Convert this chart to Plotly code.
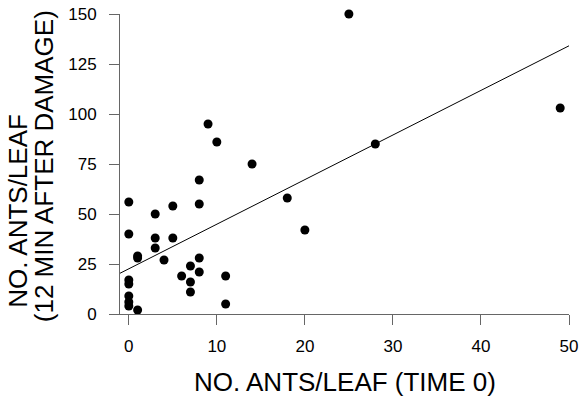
import plotly.graph_objects as go

# Data
ants_time0 = [0, 0, 1, 1, 0, 0, 0, 0, 0, 1, 3, 3, 3, 5, 5, 4, 6, 7, 7, 7,
              8, 8, 8, 8, 9, 10, 11, 11, 14, 18, 20, 25, 28, 49]
ants_12min = [56, 40, 29, 28, 17, 15, 9, 6, 4, 2, 50, 38, 33, 54, 38, 27, 19, 24, 16, 11,
              67, 55, 28, 21, 95, 86, 19, 5, 75, 58, 42, 150, 85, 103]

# Regression line parameters
fit_intercept = 22.6
fit_slope = 2.23
fit_x = [-1, 50]
fit_y = [fit_intercept + fit_slope * x for x in fit_x]

x_ticks = [0, 10, 20, 30, 40, 50]
y_ticks = [0, 25, 50, 75, 100, 125, 150]

x_title = "NO. ANTS/LEAF (TIME 0)"
y_title_1 = "NO. ANTS/LEAF"
y_title_2 = "(12 MIN AFTER DAMAGE)"

font_family = "Liberation Sans, Arial, Helvetica, sans-serif"
axis_color = "#666"

fig = go.Figure()
fig.add_trace(go.Scatter(x=fit_x, y=fit_y, mode="lines",
                         line=dict(color="black", width=1), hoverinfo="skip"))
fig.add_trace(go.Scatter(x=ants_time0, y=ants_12min, mode="markers", cliponaxis=False,
                         marker=dict(color="black", size=9)))

fig.update_layout(
    width=579, height=402,
    margin=dict(l=120, r=10, t=14, b=88),
    paper_bgcolor="white", plot_bgcolor="white",
    showlegend=False,
    font=dict(family=font_family, color="black"),
    xaxis=dict(range=[-1, 50], tickvals=x_ticks, ticks="outside", ticklen=10,
               tickcolor=axis_color, showline=True, linecolor=axis_color, linewidth=1,
               showgrid=False, zeroline=False, tickfont=dict(size=17), automargin=False,
               ticklabelstandoff=7),
    yaxis=dict(range=[0, 150], tickvals=y_ticks, ticks="outside", ticklen=10,
               tickcolor=axis_color, showline=True, linecolor=axis_color, linewidth=1,
               showgrid=False, zeroline=False, tickfont=dict(size=17), automargin=False,
               ticklabelstandoff=9),
    annotations=[
        dict(text=x_title, xref="paper", yref="paper",
             x=0.5, y=-0.225, xanchor="center", yanchor="middle", showarrow=False,
             font=dict(size=26)),
        dict(text=y_title_1, textangle=-90, xref="paper", yref="paper",
             x=-0.228, y=0.343, xanchor="center", yanchor="middle", showarrow=False,
             font=dict(size=26)),
        dict(text=y_title_2, textangle=-90, xref="paper", yref="paper",
             x=-0.169, y=0.493, xanchor="center", yanchor="middle", showarrow=False,
             font=dict(size=26)),
    ],
)

fig.write_html("out.html")
